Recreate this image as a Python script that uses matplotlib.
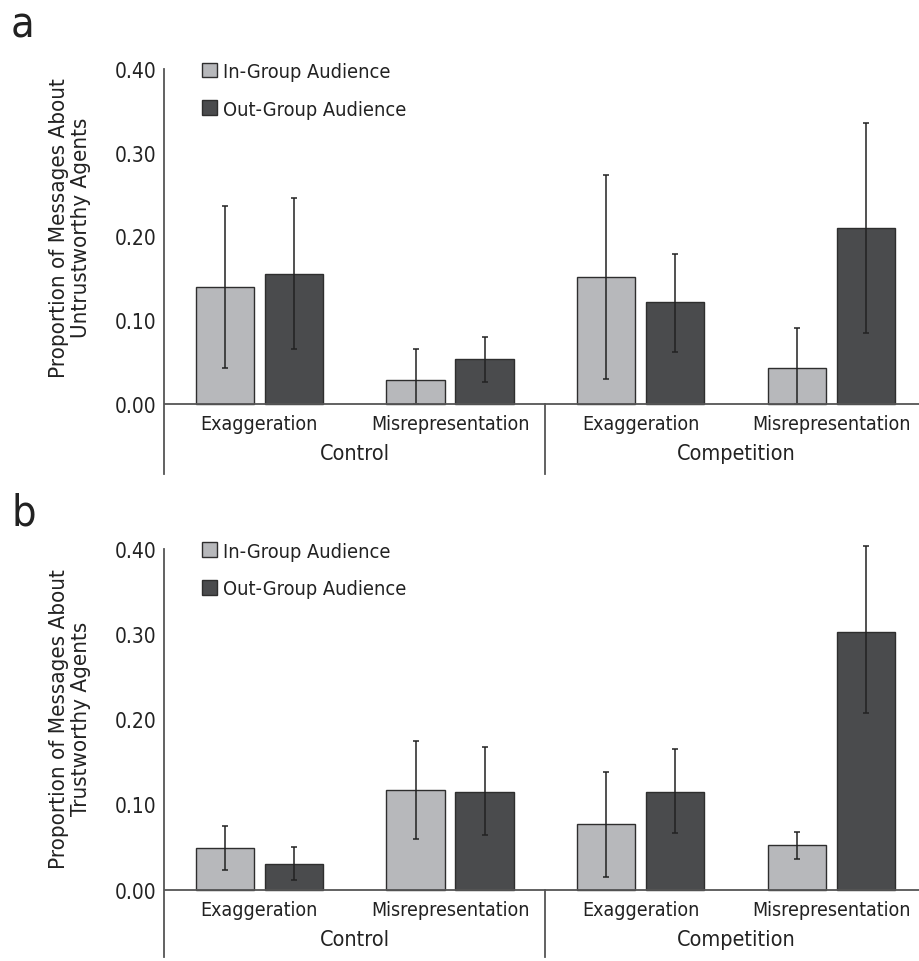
import matplotlib
matplotlib.use("Agg")
import matplotlib.pyplot as plt
from matplotlib import font_manager
from matplotlib.patches import Patch
import numpy as np

# font: a narrow sans if there is one
names = set(f.name for f in font_manager.fontManager.ttflist)
if 'Liberation Sans Narrow' in names:
    plt.rcParams['font.family'] = 'Liberation Sans Narrow'
else:
    plt.rcParams['font.family'] = 'DejaVu Sans'
    plt.rcParams['font.stretch'] = 'condensed'

conditions = ['Control', 'Competition']
types = ['Exaggeration', 'Misrepresentation']
series = ['In-Group Audience', 'Out-Group Audience']

# panel a: untrustworthy agents (order: ctrl-exag, ctrl-mis, comp-exag, comp-mis)
a_in = [0.140, 0.028, 0.152, 0.043]
a_in_lo = [0.043, 0.000, 0.030, 0.000]
a_in_hi = [0.236, 0.066, 0.273, 0.090]
a_out = [0.155, 0.053, 0.121, 0.210]
a_out_lo = [0.065, 0.026, 0.062, 0.084]
a_out_hi = [0.246, 0.080, 0.179, 0.335]

# panel b: trustworthy agents
b_in = [0.049, 0.117, 0.077, 0.052]
b_in_lo = [0.023, 0.060, 0.015, 0.036]
b_in_hi = [0.075, 0.175, 0.138, 0.068]
b_out = [0.030, 0.115, 0.115, 0.302]
b_out_lo = [0.011, 0.064, 0.066, 0.208]
b_out_hi = [0.050, 0.168, 0.165, 0.403]

light = '#b7b8bb'
dark = '#4a4b4d'
edge = '#2e2e2e'
axcol = '#555555'
txt = '#222222'


def panel(ax, vin, vin_lo, vin_hi, vout, vout_lo, vout_hi, ybot):
    x = np.arange(4)
    w = 0.305
    off = 0.181
    vin = np.array(vin); vout = np.array(vout)
    ein = [vin - np.array(vin_lo), np.array(vin_hi) - vin]
    eout = [vout - np.array(vout_lo), np.array(vout_hi) - vout]
    ek = dict(ecolor='#222222', elinewidth=1.1, capsize=2.5, capthick=1.1, clip_on=False)
    ax.bar(x - off, vin, w, color=light, edgecolor=edge, linewidth=1.0,
           yerr=ein, error_kw=ek, zorder=2)
    ax.bar(x + off, vout, w, color=dark, edgecolor=edge, linewidth=1.0,
           yerr=eout, error_kw=ek, zorder=2)

    ax.set_xlim(-0.5, 3.46)
    ax.set_ylim(ybot, 0.40)
    ax.set_yticks([0, 0.1, 0.2, 0.3, 0.4])
    ax.set_yticklabels(['%.2f' % t for t in [0, 0.1, 0.2, 0.3, 0.4]], fontsize=15)
    ax.tick_params(axis='y', length=0, pad=5.5, colors=txt)
    ax.set_xticks([])
    for s in ['top', 'right', 'bottom']:
        ax.spines[s].set_visible(False)
    ax.spines['left'].set_color(axcol)
    ax.spines['left'].set_linewidth(1.3)
    ax.axhline(0, color=axcol, lw=1.3, zorder=3)
    ax.plot([1.5, 1.5], [ybot, 0], color=axcol, lw=1.3, clip_on=False)

    for i in range(4):
        ax.annotate(types[i % 2], xy=(i, 0), xytext=(0, -20), textcoords='offset pixels',
                    ha='center', va='center', fontsize=14, color=txt)
    for j in range(2):
        ax.annotate(conditions[j], xy=(2 * j + 0.5, 0), xytext=(0, -49), textcoords='offset pixels',
                    ha='center', va='center', fontsize=15.5, color=txt)

    handles = [Patch(facecolor=light, edgecolor=edge, lw=1.0),
               Patch(facecolor=dark, edgecolor=edge, lw=1.0)]
    ax.legend(handles, series, loc='upper left', bbox_to_anchor=(0.027, 1.062), frameon=False,
              fontsize=14.3, handlelength=0.75, handleheight=0.75, handletextpad=0.3,
              labelspacing=0.95, labelcolor=txt)


fig = plt.figure(figsize=(9.19, 9.62), dpi=100)
ax1 = fig.add_axes([0.1785, 0.5062, 0.8215, 0.4210])
ax2 = fig.add_axes([0.1785, 0.0042, 0.8215, 0.4241])

panel(ax1, a_in, a_in_lo, a_in_hi, a_out, a_out_lo, a_out_hi, -0.084)
panel(ax2, b_in, b_in_lo, b_in_hi, b_out, b_out_lo, b_out_hi, -0.079)

fig.text(0.076, 0.763, 'Proportion of Messages About\nUntrustworthy Agents', rotation=90,
         ha='center', va='center', multialignment='center', fontsize=16, color=txt,
         linespacing=1.15)
fig.text(0.076, 0.2526, 'Proportion of Messages About\nTrustworthy Agents', rotation=90,
         ha='center', va='center', multialignment='center', fontsize=16, color=txt,
         linespacing=1.15)
fig.text(0.012, 0.974, 'a', fontsize=31, ha='left', va='center', color=txt)
fig.text(0.012, 0.466, 'b', fontsize=31, ha='left', va='center', color=txt)

fig.savefig('out.png', dpi=100)
